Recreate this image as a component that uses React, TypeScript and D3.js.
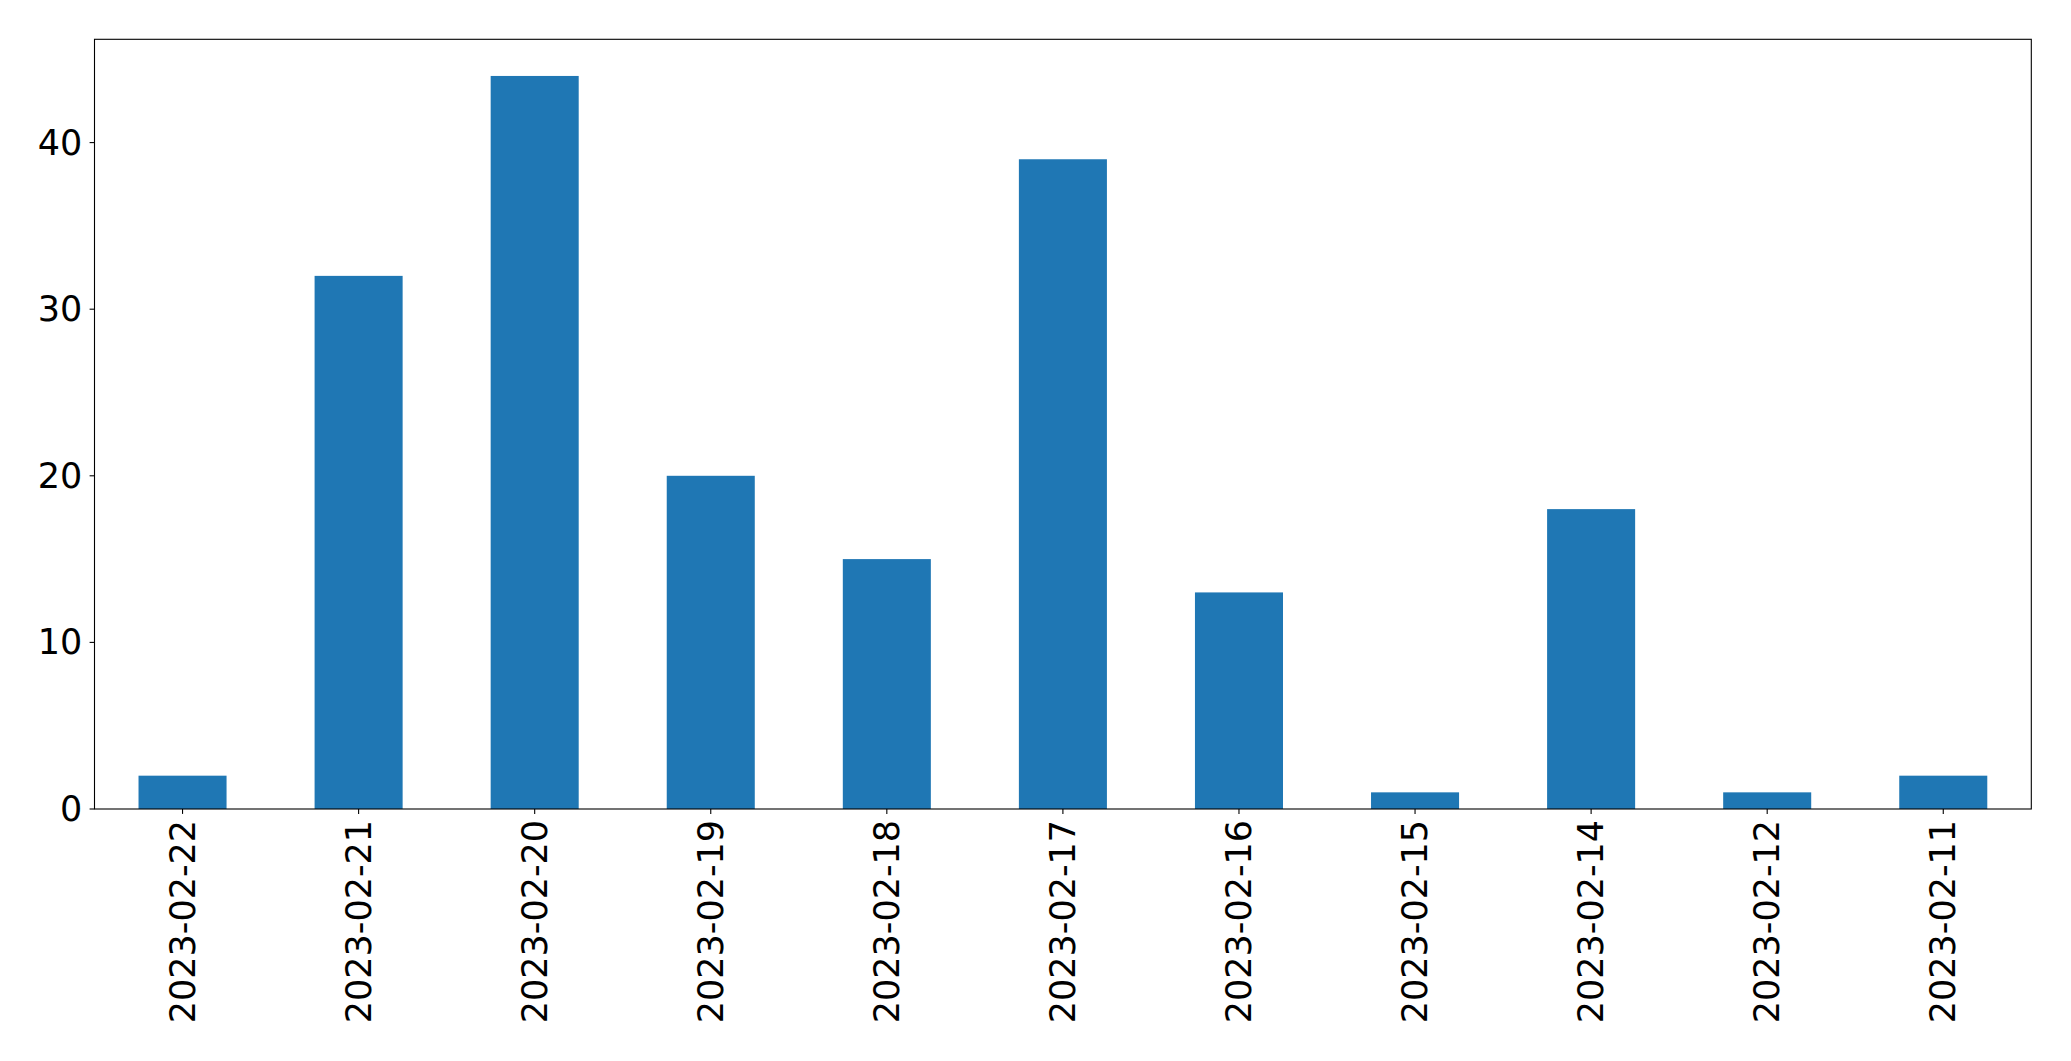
import React from "react";
import * as d3 from "d3";

const categories: string[] = [
  "2023-02-22", "2023-02-21", "2023-02-20", "2023-02-19", "2023-02-18", "2023-02-17",
  "2023-02-16", "2023-02-15", "2023-02-14", "2023-02-12", "2023-02-11",
];
const values: number[] = [2, 32, 44, 20, 15, 39, 13, 1, 18, 1, 2];
const yTicks: number[] = [0, 10, 20, 30, 40];

const W = 2071;
const H = 1061;
const left = 94.5;
const right = 2031.3;
const top = 39.3;
const bottom = 809;
const font = "'DejaVu Sans', sans-serif";
const fs = 35;

export default function App() {
  const x = d3.scaleLinear().domain([-0.5, categories.length - 0.5]).range([left, right]);
  const yMax = d3.max(values)! * 1.05;
  const y = d3.scaleLinear().domain([0, yMax]).range([bottom, top]);
  const barW = x(0.25) - x(-0.25);

  return (
    <div style={{ position: "absolute", left: 0, top: 0 }}>
      <svg width={W} height={H} style={{ display: "block", background: "#fff" }}>
        {values.map((v, i) => (
          <rect
            key={categories[i]}
            x={x(i) - barW / 2}
            y={y(v)}
            width={barW}
            height={y(0) - y(v)}
            fill="#1f77b4"
          />
        ))}
        {yTicks.map((t) => (
          <g key={t}>
            <line x1={left - 4.9} x2={left} y1={y(t)} y2={y(t)} stroke="#000" strokeWidth={1.1} />
            <text
              x={left - 4.9 - 7.4}
              y={y(t)}
              textAnchor="end"
              dominantBaseline="central"
              fontFamily={font}
              fontSize={fs}
              fill="#000"
            >
              {t}
            </text>
          </g>
        ))}
        {categories.map((c, i) => (
          <g key={c}>
            <line x1={x(i)} x2={x(i)} y1={bottom} y2={bottom + 4.9} stroke="#000" strokeWidth={1.1} />
            <text
              transform={`translate(${x(i)},${bottom + 4.9 + 6}) rotate(-90)`}
              textAnchor="end"
              dominantBaseline="central"
              fontFamily={font}
              fontSize={fs}
              fill="#000"
            >
              {c}
            </text>
          </g>
        ))}
        <rect
          x={left}
          y={top}
          width={right - left}
          height={bottom - top}
          fill="none"
          stroke="#000"
          strokeWidth={1.1}
        />
      </svg>
    </div>
  );
}
